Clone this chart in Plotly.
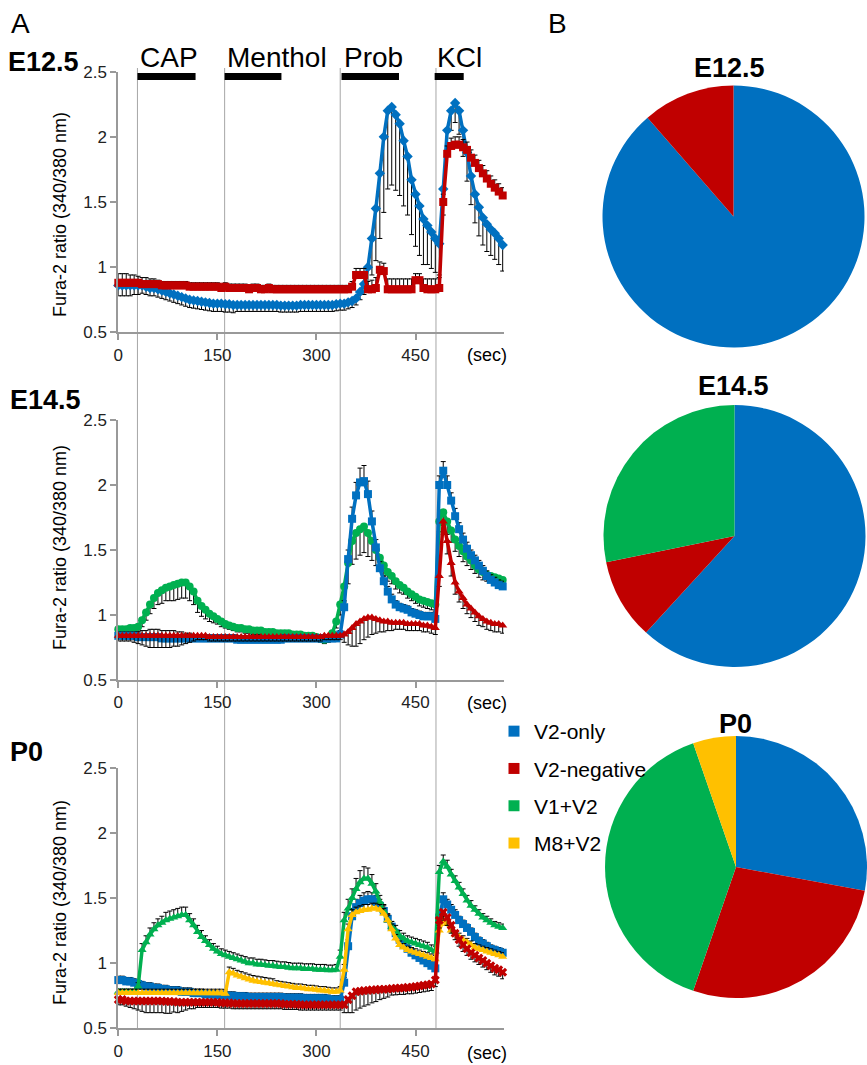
import plotly.graph_objects as go

# ---------------- data ----------------
t = list(range(0, 583, 6))  # seconds, 98 samples

# E12.5
b12 = [0.86,0.86,0.86,0.86,0.86,0.86,0.86,0.85,0.84,0.84,
       0.83,0.82,0.81,0.80,0.79,0.78,0.77,0.76,0.75,0.745,
       0.74,0.735,0.73,0.725,0.72,0.72,0.72,0.715,0.715,0.71,
       0.71,0.71,0.71,0.71,0.71,0.71,0.71,0.71,0.71,0.71,
       0.71,0.705,0.705,0.705,0.705,0.705,0.71,0.71,0.71,0.71,
       0.71,0.71,0.71,0.71,0.71,0.715,0.72,0.72,0.73,0.74,
       0.76,0.81,0.87,1.00,1.22,1.45,1.72,2.00,2.20,2.23,
       2.17,2.10,1.97,1.85,1.67,1.56,1.47,1.37,1.32,1.27,
       1.22,1.18,1.60,2.05,2.20,2.26,2.20,2.05,1.88,1.70,
       1.56,1.46,1.38,1.33,1.29,1.26,1.22,1.17]
b12_err = [0.08,0.08,0.08,0.08,0.07,0.07,0.06,0.06,0.06,0.06,
           0.06,0.06,0.06,0.06,0.06,0.06,0.06,0.06,0.06,0.06,
           0.06,0.06,0.06,0.06,0.06,0.06,0.06,0.06,0.06,0.06,
           0.05,0.05,0.05,0.05,0.05,0.05,0.05,0.05,0.05,0.05,
           0.05,0.05,0.05,0.05,0.05,0.05,0.05,0.05,0.05,0.05,
           0.05,0.05,0.05,0.05,0.05,0.05,0.05,0.05,0.05,0.05,
           0.05,0.06,0.08,0.15,0.28,0.40,0.50,0.58,0.60,0.60,
           0.58,0.55,0.50,0.45,0.42,0.40,0.38,0.35,0.30,0.28,
           0.26,0.24,0.20,0.18,0.15,0.15,0.18,0.20,0.22,0.22,
           0.22,0.22,0.21,0.21,0.20,0.20,0.20,0.20]
r12 = [0.88,0.88,0.88,0.88,0.88,0.88,0.87,0.87,0.87,0.87,
       0.87,0.86,0.86,0.86,0.86,0.86,0.86,0.86,0.85,0.85,
       0.85,0.85,0.85,0.85,0.85,0.85,0.84,0.85,0.84,0.84,
       0.84,0.84,0.84,0.83,0.84,0.84,0.83,0.83,0.84,0.83,
       0.83,0.83,0.83,0.83,0.83,0.83,0.83,0.83,0.83,0.83,
       0.83,0.83,0.83,0.83,0.83,0.83,0.83,0.83,0.83,0.85,
       0.94,0.94,0.94,0.83,0.83,0.84,0.98,0.97,0.83,0.83,
       0.83,0.83,0.83,0.83,0.83,0.90,0.90,0.84,0.83,0.83,
       0.83,0.84,1.50,1.87,1.93,1.94,1.94,1.92,1.90,1.84,
       1.80,1.76,1.72,1.68,1.64,1.61,1.58,1.55]
r12_err = [0.07,0.07,0.07,0.06,0.06,0.05,0.05,0.05,0.04,0.04,
           0.03,0.03,0.03,0.03,0.03,0.03,0.03,0.03,0.03,0.03,
           0.03,0.03,0.03,0.03,0.03,0.03,0.03,0.03,0.03,0.03,
           0.03,0.03,0.03,0.03,0.03,0.03,0.03,0.03,0.03,0.03,
           0.03,0.03,0.03,0.03,0.03,0.03,0.03,0.03,0.03,0.03,
           0.03,0.03,0.03,0.03,0.03,0.03,0.03,0.03,0.03,0.04,
           0.05,0.05,0.05,0.06,0.07,0.08,0.06,0.06,0.08,0.08,
           0.08,0.08,0.08,0.08,0.08,0.05,0.05,0.07,0.08,0.08,
           0.08,0.08,0.06,0.06,0.06,0.06,0.06,0.06,0.06,0.06,
           0.06,0.06,0.06,0.06,0.06,0.06,0.06,0.06]

# E14.5
b14 = [0.84,0.84,0.84,0.84,0.84,0.83,0.83,0.83,0.83,0.83,
       0.83,0.82,0.82,0.82,0.82,0.82,0.82,0.82,0.82,0.82,
       0.82,0.82,0.82,0.82,0.82,0.82,0.82,0.82,0.82,0.82,
       0.81,0.81,0.81,0.81,0.81,0.81,0.81,0.81,0.81,0.81,
       0.81,0.81,0.82,0.82,0.82,0.82,0.82,0.82,0.82,0.82,
       0.82,0.82,0.82,0.82,0.82,0.82,0.85,1.06,1.43,1.74,
       1.92,2.02,2.03,1.93,1.72,1.52,1.36,1.26,1.18,1.12,
       1.08,1.06,1.05,1.04,1.02,1.01,1.00,0.99,0.99,0.99,
       0.97,2.00,2.11,2.00,1.88,1.76,1.66,1.58,1.51,1.46,
       1.42,1.38,1.34,1.30,1.27,1.25,1.23,1.22]
b14_err = [0.03,0.03,0.03,0.03,0.03,0.04,0.05,0.05,0.06,0.06,
           0.06,0.06,0.06,0.06,0.06,0.05,0.05,0.04,0.04,0.03,
           0.03,0.03,0.03,0.03,0.03,0.03,0.03,0.03,0.03,0.03,
           0.03,0.03,0.03,0.03,0.03,0.03,0.03,0.03,0.03,0.03,
           0.03,0.03,0.03,0.03,0.03,0.03,0.03,0.03,0.03,0.03,
           0.03,0.03,0.03,0.03,0.03,0.03,0.03,0.05,0.07,0.09,
           0.10,0.11,0.12,0.10,0.08,0.06,0.05,0.04,0.04,0.04,
           0.03,0.03,0.03,0.03,0.03,0.03,0.03,0.03,0.03,0.03,
           0.03,0.07,0.07,0.07,0.06,0.06,0.05,0.05,0.05,0.04,
           0.04,0.04,0.04,0.04,0.04,0.04,0.04,0.04]
g14 = [0.89,0.89,0.89,0.90,0.90,0.91,0.96,1.02,1.08,1.13,
       1.17,1.19,1.21,1.22,1.23,1.24,1.25,1.25,1.22,1.18,
       1.11,1.07,1.04,1.01,0.99,0.97,0.95,0.93,0.92,0.91,
       0.90,0.90,0.89,0.89,0.88,0.88,0.88,0.87,0.87,0.87,
       0.86,0.86,0.86,0.86,0.85,0.85,0.85,0.84,0.84,0.84,
       0.83,0.82,0.81,0.82,0.86,0.95,1.08,1.22,1.40,1.57,
       1.63,1.66,1.68,1.63,1.57,1.50,1.44,1.38,1.33,1.30,
       1.26,1.23,1.21,1.18,1.16,1.14,1.12,1.11,1.10,1.09,
       1.08,1.72,1.79,1.72,1.65,1.58,1.53,1.49,1.45,1.42,
       1.38,1.35,1.33,1.31,1.30,1.29,1.28,1.27]
g14_err = [0.03,0.03,0.03,0.03,0.03,0.04,0.05,0.06,0.07,0.08,
           0.09,0.10,0.10,0.11,0.12,0.12,0.12,0.12,0.11,0.10,
           0.09,0.08,0.07,0.06,0.05,0.04,0.04,0.03,0.03,0.03,
           0.03,0.03,0.03,0.03,0.03,0.03,0.03,0.03,0.03,0.03,
           0.03,0.03,0.03,0.03,0.03,0.03,0.03,0.03,0.03,0.03,
           0.03,0.03,0.03,0.03,0.04,0.05,0.08,0.12,0.16,0.18,
           0.20,0.20,0.20,0.18,0.15,0.12,0.10,0.08,0.07,0.06,
           0.06,0.06,0.05,0.05,0.05,0.05,0.05,0.05,0.05,0.05,
           0.05,0.08,0.10,0.10,0.09,0.09,0.08,0.08,0.07,0.07,
           0.06,0.06,0.06,0.05,0.05,0.05,0.05,0.05]
r14 = [0.84,0.84,0.84,0.84,0.84,0.84,0.84,0.84,0.84,0.84,
       0.84,0.84,0.84,0.84,0.84,0.84,0.84,0.84,0.84,0.84,
       0.84,0.84,0.84,0.83,0.83,0.83,0.83,0.83,0.83,0.83,
       0.83,0.83,0.83,0.83,0.83,0.83,0.83,0.83,0.83,0.83,
       0.83,0.83,0.83,0.83,0.83,0.83,0.83,0.83,0.83,0.83,
       0.83,0.83,0.84,0.84,0.84,0.84,0.84,0.85,0.87,0.90,
       0.93,0.95,0.97,0.98,0.98,0.97,0.96,0.95,0.95,0.94,
       0.94,0.94,0.94,0.93,0.93,0.93,0.93,0.92,0.92,0.91,
       0.90,1.30,1.72,1.57,1.40,1.25,1.18,1.13,1.08,1.05,
       1.02,0.99,0.97,0.95,0.94,0.93,0.93,0.92]
r14_err = [0.04,0.04,0.04,0.04,0.05,0.06,0.07,0.08,0.09,0.09,
           0.09,0.09,0.09,0.09,0.08,0.08,0.07,0.06,0.05,0.04,
           0.03,0.03,0.03,0.03,0.03,0.03,0.03,0.03,0.03,0.03,
           0.03,0.03,0.03,0.03,0.03,0.03,0.03,0.03,0.03,0.03,
           0.03,0.03,0.03,0.03,0.03,0.03,0.03,0.03,0.03,0.03,
           0.03,0.03,0.03,0.03,0.03,0.03,0.03,0.06,0.10,0.14,
           0.17,0.17,0.16,0.15,0.13,0.11,0.09,0.08,0.07,0.06,
           0.05,0.05,0.05,0.05,0.05,0.05,0.05,0.05,0.05,0.05,
           0.05,0.08,0.10,0.10,0.10,0.09,0.08,0.08,0.07,0.07,
           0.07,0.07,0.06,0.06,0.06,0.06,0.06,0.06]

# P0
b0 = [0.87,0.87,0.86,0.86,0.85,0.84,0.83,0.82,0.82,0.81,
      0.81,0.80,0.80,0.79,0.79,0.79,0.78,0.78,0.78,0.77,
      0.77,0.77,0.76,0.76,0.76,0.755,0.755,0.75,0.75,0.75,
      0.745,0.745,0.745,0.74,0.74,0.74,0.74,0.74,0.74,0.74,
      0.74,0.74,0.735,0.735,0.735,0.735,0.735,0.73,0.73,0.73,
      0.73,0.73,0.73,0.725,0.72,0.72,0.72,0.85,1.13,1.36,
      1.43,1.46,1.48,1.49,1.49,1.47,1.44,1.40,1.34,1.28,
      1.23,1.18,1.14,1.11,1.08,1.06,1.04,1.02,1.00,0.98,
      0.96,1.35,1.49,1.45,1.41,1.37,1.33,1.30,1.27,1.24,
      1.20,1.17,1.15,1.13,1.11,1.10,1.09,1.08]
b0_err = [0.03,0.03,0.03,0.03,0.03,0.03,0.03,0.03,0.03,0.03,
          0.03,0.03,0.03,0.03,0.03,0.03,0.03,0.03,0.03,0.03,
          0.03,0.03,0.03,0.03,0.03,0.03,0.03,0.03,0.03,0.03,
          0.03,0.03,0.03,0.03,0.03,0.03,0.03,0.03,0.03,0.03,
          0.03,0.03,0.03,0.03,0.03,0.03,0.03,0.03,0.03,0.03,
          0.03,0.03,0.03,0.03,0.03,0.03,0.03,0.04,0.05,0.06,
          0.06,0.06,0.06,0.06,0.05,0.05,0.05,0.04,0.04,0.04,
          0.03,0.03,0.03,0.03,0.03,0.03,0.03,0.03,0.03,0.03,
          0.03,0.04,0.05,0.04,0.04,0.04,0.03,0.03,0.03,0.03,
          0.03,0.03,0.03,0.03,0.03,0.03,0.03,0.03]
g0 = [0.78,0.78,0.78,0.78,0.78,0.82,1.10,1.16,1.22,1.26,
      1.29,1.31,1.33,1.34,1.35,1.36,1.37,1.37,1.33,1.29,
      1.24,1.20,1.17,1.14,1.11,1.09,1.07,1.06,1.05,1.04,
      1.03,1.02,1.01,1.00,1.00,0.99,0.99,0.985,0.98,0.98,
      0.975,0.97,0.97,0.965,0.96,0.96,0.96,0.955,0.955,0.955,
      0.95,0.95,0.95,0.945,0.945,0.95,1.05,1.33,1.42,1.50,
      1.57,1.62,1.65,1.65,1.61,1.55,1.47,1.40,1.33,1.28,
      1.25,1.21,1.19,1.17,1.16,1.15,1.14,1.13,1.12,1.10,
      1.09,1.70,1.78,1.74,1.68,1.63,1.58,1.53,1.48,1.44,
      1.41,1.38,1.35,1.33,1.31,1.29,1.28,1.27]
g0_err = [0.02,0.02,0.02,0.02,0.02,0.03,0.05,0.05,0.05,0.05,
          0.05,0.05,0.06,0.06,0.06,0.06,0.06,0.06,0.05,0.05,
          0.05,0.05,0.04,0.04,0.04,0.04,0.04,0.04,0.04,0.04,
          0.04,0.04,0.04,0.04,0.04,0.04,0.04,0.04,0.04,0.04,
          0.04,0.04,0.04,0.04,0.04,0.04,0.04,0.04,0.04,0.04,
          0.04,0.04,0.04,0.04,0.04,0.04,0.05,0.06,0.07,0.07,
          0.08,0.09,0.09,0.08,0.07,0.06,0.05,0.05,0.04,0.04,
          0.04,0.04,0.04,0.04,0.04,0.04,0.04,0.04,0.04,0.04,
          0.04,0.05,0.05,0.05,0.04,0.04,0.04,0.04,0.04,0.04,
          0.03,0.03,0.03,0.03,0.03,0.03,0.03,0.03]
y0 = [0.77,0.77,0.77,0.77,0.77,0.77,0.77,0.77,0.77,0.77,
      0.77,0.77,0.77,0.77,0.77,0.77,0.77,0.77,0.77,0.77,
      0.77,0.77,0.77,0.77,0.77,0.77,0.77,0.765,0.93,0.92,
      0.905,0.895,0.885,0.875,0.865,0.86,0.855,0.85,0.845,0.84,
      0.835,0.83,0.825,0.82,0.815,0.81,0.81,0.805,0.80,0.80,
      0.795,0.79,0.79,0.785,0.78,0.78,0.79,0.95,1.26,1.37,
      1.39,1.40,1.41,1.41,1.42,1.42,1.41,1.38,1.33,1.26,
      1.19,1.14,1.12,1.10,1.09,1.08,1.07,1.06,1.05,1.04,
      1.03,1.25,1.33,1.30,1.25,1.22,1.20,1.18,1.16,1.14,
      1.12,1.11,1.10,1.09,1.08,1.07,1.06,1.05]
y0_err = [0.03,0.03,0.03,0.03,0.03,0.03,0.03,0.03,0.03,0.03,
          0.03,0.03,0.03,0.03,0.03,0.03,0.03,0.03,0.03,0.03,
          0.03,0.03,0.03,0.03,0.03,0.03,0.03,0.03,0.04,0.04,
          0.04,0.04,0.04,0.04,0.04,0.04,0.04,0.04,0.04,0.04,
          0.03,0.03,0.03,0.03,0.03,0.03,0.03,0.03,0.03,0.03,
          0.03,0.03,0.03,0.03,0.03,0.03,0.03,0.04,0.04,0.04,
          0.04,0.04,0.04,0.04,0.04,0.04,0.04,0.04,0.04,0.04,
          0.03,0.03,0.03,0.03,0.03,0.03,0.03,0.03,0.03,0.03,
          0.03,0.04,0.04,0.04,0.03,0.03,0.03,0.03,0.03,0.03,
          0.03,0.03,0.03,0.03,0.03,0.03,0.03,0.03]
r0 = [0.72,0.72,0.71,0.71,0.71,0.71,0.71,0.71,0.71,0.71,
      0.71,0.71,0.705,0.705,0.705,0.70,0.70,0.70,0.70,0.70,
      0.70,0.70,0.70,0.70,0.70,0.70,0.695,0.695,0.695,0.69,
      0.69,0.69,0.69,0.69,0.69,0.69,0.69,0.69,0.69,0.69,
      0.69,0.69,0.685,0.685,0.685,0.685,0.68,0.68,0.68,0.68,
      0.68,0.68,0.68,0.68,0.68,0.68,0.68,0.68,0.72,0.75,
      0.78,0.785,0.79,0.79,0.795,0.795,0.80,0.80,0.80,0.805,
      0.807,0.81,0.81,0.815,0.815,0.82,0.825,0.83,0.835,0.84,
      0.87,1.33,1.39,1.35,1.29,1.23,1.18,1.14,1.11,1.08,
      1.06,1.04,1.02,1.00,0.98,0.96,0.95,0.93]
r0_err = [0.04,0.04,0.04,0.05,0.06,0.07,0.08,0.09,0.09,0.09,
          0.09,0.09,0.09,0.09,0.08,0.08,0.07,0.06,0.05,0.05,
          0.04,0.04,0.04,0.04,0.04,0.04,0.04,0.04,0.04,0.04,
          0.04,0.04,0.04,0.04,0.04,0.04,0.04,0.04,0.04,0.04,
          0.04,0.04,0.04,0.04,0.04,0.04,0.04,0.04,0.04,0.04,
          0.04,0.04,0.04,0.04,0.04,0.04,0.04,0.06,0.10,0.13,
          0.14,0.13,0.12,0.11,0.10,0.09,0.08,0.07,0.06,0.05,
          0.05,0.05,0.05,0.05,0.05,0.05,0.05,0.05,0.05,0.05,
          0.05,0.06,0.06,0.06,0.06,0.05,0.05,0.05,0.05,0.05,
          0.05,0.05,0.05,0.05,0.05,0.05,0.05,0.05]

# stimuli
stim_names = ["CAP", "Menthol", "Prob", "KCl"]
stim_onsets = [29, 161, 336, 481]
bars_e12 = [(29, 117), (161, 247), (338, 425), (479, 523)]
bars_e14 = [(31, 119), (164, 250), (336, 380), (481, 503)]
bars_p0 = [(34, 120), (161, 205), (336, 380), (481, 503)]

# pie charts (cell-type proportions, %)
groups = ["V2-only", "V2-negative", "V1+V2", "M8+V2"]
colors = {"V2-only": "#0070C0", "V2-negative": "#C00000",
          "V1+V2": "#00B050", "M8+V2": "#FFC000"}
pie_e12 = [88.6, 11.4]
pie_e14 = [61.8, 10.0, 28.2]
pie_p0 = [27.9, 27.4, 39.4, 5.3]

# ---------------- figure ----------------
W, H = 867, 1065
FONT = "Liberation Sans, Arial, sans-serif"

def px(x):
    return x / W

def py(y):
    return 1 - y / H

fig = go.Figure()

panels = [
    ("", [("V2-only", b12, b12_err, "minus", "diamond"),
          ("V2-negative", r12, r12_err, "plus", "square")],
     bars_e12, 2.463, (71.7, 332.3)),
    ("2", [("V1+V2", g14, g14_err, "minus", "circle"),
           ("V2-only", b14, b14_err, "plus", "square"),
           ("V2-negative", r14, r14_err, "minus", "triangle-up")],
     bars_e14, 2.577, (420.0, 680.0)),
    ("3", [("V2-only", b0, b0_err, "plus", "square"),
           ("V1+V2", g0, g0_err, "plus", "triangle-up"),
           ("M8+V2", y0, y0_err, "plus", "triangle-up"),
           ("V2-negative", r0, r0_err, "minus", "x")],
     bars_p0, 2.555, (767.7, 1028.3)),
]

x_dom = [px(118.3), px(504.0)]
shapes = []
for suf, series, bars, bar_y, (top, bot) in panels:
    xa, ya = "x" + suf, "y" + suf
    for name, vals, err, side, sym in series:
        zeros = [0.0] * len(err)
        fig.add_trace(go.Scatter(
            x=t, y=vals, mode="lines+markers", name=name,
            line=dict(color=colors[name], width=3.5),
            marker=dict(symbol=sym, size=8, color=colors[name],
                        line=dict(width=0)),
            error_y=dict(type="data", symmetric=False,
                         array=err if side == "plus" else zeros,
                         arrayminus=err if side == "minus" else zeros,
                         color="black", thickness=1, width=2.5),
            xaxis=xa, yaxis=ya, showlegend=False, cliponaxis=False,
            hoverinfo="x+y+name"))
    for s0, s1 in bars:
        shapes.append(dict(type="rect", xref=xa, yref=ya,
                           x0=s0, x1=s1, y0=bar_y - 0.027, y1=bar_y + 0.027,
                           fillcolor="black", line=dict(width=0)))
    axis_common = dict(showline=True, linecolor="#999999", linewidth=2,
                       ticks="outside", tickcolor="#999999", tickwidth=1.5,
                       ticklen=6, showgrid=False, zeroline=False,
                       automargin=False,
                       tickfont=dict(family=FONT, size=17, color="#222222"))
    fig.update_layout(**{
        "xaxis" + suf: dict(domain=x_dom, range=[0, 584], anchor=ya,
                            tickvals=[0, 150, 300, 450], **axis_common),
        "yaxis" + suf: dict(domain=[py(bot), py(top)], range=[0.5, 2.5],
                            anchor=xa, tickvals=[0.5, 1, 1.5, 2, 2.5],
                            **axis_common),
    })

for on in stim_onsets:
    shapes.append(dict(type="line", xref="x", yref="paper", x0=on, x1=on,
                       y0=py(1028.3), y1=py(68), layer="below",
                       line=dict(color="#a6a6a6", width=1)))

for g in groups:
    fig.add_trace(go.Scatter(x=[None], y=[None], mode="markers", name=g,
                             legendgroup=g,
                             marker=dict(symbol="square", size=11,
                                         color=colors[g]),
                             showlegend=True, xaxis="x", yaxis="y"))

pie_specs = [
    (pie_e12, groups[:2], (602.5, 864.5), (85.5, 347.5)),
    (pie_e14, ["V2-only", "V2-negative", "V1+V2"], (603.5, 865.5), (405, 667)),
    (pie_p0, groups, (605, 867), (736, 998)),
]
for vals, labs, (xl, xr), (yt, yb) in pie_specs:
    fig.add_trace(go.Pie(values=vals, labels=labs, sort=False,
                         direction="clockwise", rotation=0,
                         marker=dict(colors=[colors[l] for l in labs],
                                     line=dict(width=0)),
                         textinfo="none", showlegend=False,
                         hoverinfo="label+percent",
                         domain=dict(x=[px(xl), px(xr)], y=[py(yb), py(yt)])))

ann = []
def txt(text, x, y, size, xanchor="center", bold=False, angle=0,
        xref="paper"):
    ann.append(dict(text=("<b>%s</b>" % text) if bold else text,
                    x=x, y=py(y), xref=xref, yref="paper",
                    xanchor=xanchor, yanchor="middle", showarrow=False,
                    textangle=angle,
                    font=dict(family=FONT, size=size, color="black")))

txt("A", px(9), 23, 28, xanchor="left")
txt("B", px(546), 23, 28, xanchor="left")
txt("E12.5", px(6), 62, 27, xanchor="left", bold=True)
txt("E14.5", px(8), 400, 27, xanchor="left", bold=True)
txt("P0", px(8), 752, 27, xanchor="left", bold=True)
for name, (s0, s1) in zip(stim_names, bars_e12):
    txt(name, s0 + 1, 57, 28, xanchor="left", xref="x")
for yc in (215, 548, 903):
    txt("Fura-2 ratio (340/380 nm)", px(60), yc, 18, angle=-90)
for yc in (355, 703, 1053):
    txt("(sec)", px(487), yc, 18)
txt("E12.5", px(729), 68, 27, bold=True)
txt("E14.5", px(733), 386, 27, bold=True)
txt("P0", px(735), 724, 27, bold=True)

fig.update_layout(
    width=W, height=H, margin=dict(l=0, r=0, t=0, b=0, autoexpand=False),
    paper_bgcolor="white", plot_bgcolor="rgba(0,0,0,0)",
    shapes=shapes, annotations=ann,
    legend=dict(x=px(494), y=py(711), xanchor="left", yanchor="top",
                font=dict(family=FONT, size=21, color="black"),
                tracegroupgap=7, bgcolor="rgba(0,0,0,0)"),
    font=dict(family=FONT),
)

fig.write_html("out.html", config={"displayModeBar": False},
               post_script="document.body.style.margin='0';"
                           "document.body.style.overflow='hidden';")
